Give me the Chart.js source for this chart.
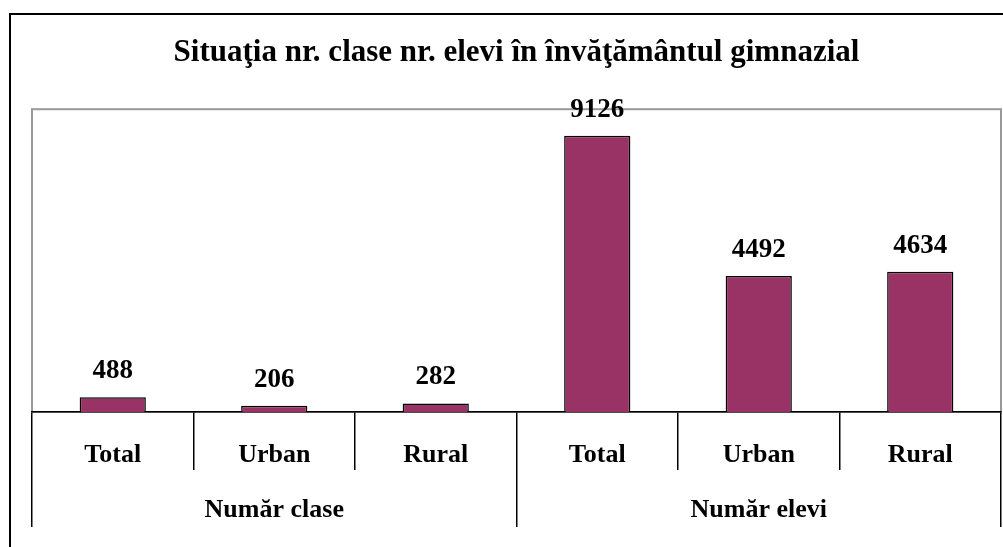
<!DOCTYPE html>
<html>
<head>
<meta charset="utf-8">
<script src="https://cdn.jsdelivr.net/npm/chart.js@4.4.1/dist/chart.umd.min.js"></script>
<style>
  html, body { margin: 0; padding: 0; background: #fff; }
  #frame {
    position: absolute;
    left: 9px;
    top: 13px;
    width: 992px;
    height: 532px;
    border-top: 2px solid #000;
    border-left: 2px solid #000;
  }
</style>
</head>
<body>
<div id="frame"><canvas id="chart" width="992" height="532"></canvas></div>
<script>
const titleText = "Situaţia nr. clase nr. elevi în învăţământul gimnazial";
const categories = ["Total", "Urban", "Rural", "Total", "Urban", "Rural"];
const groups = ["Număr clase", "Număr elevi"];
const values = [488, 206, 282, 9126, 4492, 4634];
const yMax = 10000;

const serif = "'Liberation Serif', 'Times New Roman', serif";

// grey frame around the plot area (drawn before the axes so the black baseline stays on top)
const plotFrame = {
  id: "plotFrame",
  beforeDraw(chart) {
    const a = chart.chartArea;
    const ctx = chart.ctx;
    ctx.save();
    ctx.strokeStyle = "#999";
    ctx.lineWidth = 2;
    ctx.strokeRect(a.left, a.top, a.right - a.left, a.bottom - a.top);
    ctx.restore();
  }
};

// numbers above the bars
const valueLabels = {
  id: "valueLabels",
  afterDatasetsDraw(chart) {
    const ctx = chart.ctx;
    const meta = chart.getDatasetMeta(0);
    ctx.save();
    ctx.font = "bold 27px " + serif;
    ctx.fillStyle = "#000";
    ctx.textAlign = "center";
    ctx.textBaseline = "alphabetic";
    meta.data.forEach((bar, i) => {
      ctx.fillText(String(values[i]), bar.x, bar.y - 19);
    });
    ctx.restore();
  }
};

new Chart(document.getElementById("chart"), {
  type: "bar",
  data: {
    labels: categories,
    datasets: [{
      data: values,
      backgroundColor: "#993366",
      borderColor: "#000",
      borderWidth: 1.5,
      barPercentage: 0.41,
      categoryPercentage: 1,
      xAxisID: "x",
    }]
  },
  options: {
    responsive: false,
    animation: false,
    devicePixelRatio: 1,
    layout: { padding: { left: 21, right: 2, top: 0, bottom: 20 } },
    plugins: {
      legend: { display: false },
      tooltip: { enabled: false },
      title: {
        display: true,
        text: titleText,
        color: "#000",
        font: { family: serif, size: 31, weight: "bold" },
        padding: { top: 19, bottom: 38 },
      },
    },
    scales: {
      y: {
        display: false,
        min: 0,
        max: yMax,
      },
      x: {
        position: "bottom",
        offset: true,
        grid: {
          offset: true,
          drawOnChartArea: false,
          drawTicks: true,
          tickLength: 58,
          color: "#000",
          lineWidth: 1.5,
        },
        border: { display: true, color: "#000", width: 1.5 },
        ticks: {
          color: "#000",
          padding: -30,
          maxRotation: 0,
          font: { family: serif, size: 26, weight: "bold" },
        },
        afterFit(scale) { scale.height = 58; },
      },
      x2: {
        type: "category",
        position: "bottom",
        labels: groups,
        offset: true,
        grid: {
          offset: true,
          drawOnChartArea: false,
          drawTicks: true,
          tickLength: 57,
          color: "#000",
          lineWidth: 1.5,
        },
        border: { display: false },
        ticks: {
          color: "#000",
          padding: -32,
          maxRotation: 0,
          font: { family: serif, size: 26, weight: "bold" },
        },
        afterFit(scale) { scale.height = 57; },
      },
    },
  },
  plugins: [plotFrame, valueLabels],
});
</script>
</body>
</html>
